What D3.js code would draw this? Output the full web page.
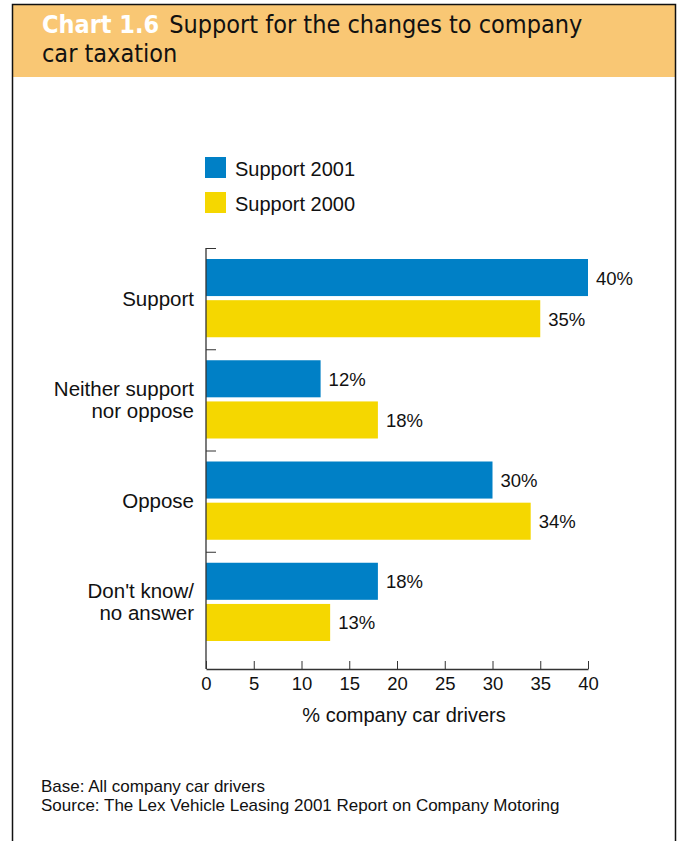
<!DOCTYPE html>
<html><head><meta charset="utf-8">
<script src="https://cdn.jsdelivr.net/npm/d3@7"></script>
<style>body{margin:0;background:#fff;} svg{display:block;}</style>
</head><body>
<svg id="c" width="679" height="841"></svg>
<script>
const categories = [["Support"], ["Neither support", "nor oppose"], ["Oppose"], ["Don't know/", "no answer"]];
const series = ["Support 2001", "Support 2000"];
const support2001 = [40, 12, 30, 18];
const support2000 = [35, 18, 34, 13];
const xTicks = [0, 5, 10, 15, 20, 25, 30, 35, 40];
const colors = ["#0080C6", "#F5D700"];

const svg = d3.select("#c");
const font = "'Liberation Sans', Arial, sans-serif";
const condensed = "'Liberation Sans Narrow', 'DejaVu Sans Condensed', 'Liberation Sans', Arial, sans-serif";

// frame
svg.append("rect").attr("x", 12).attr("y", 4).attr("width", 664).attr("height", 73).attr("fill", "#F9C774");
svg.append("path").attr("d", "M12.5,841 V4.5 H675.5 V841").attr("fill", "none").attr("stroke", "#111").attr("stroke-width", 1.5);

// title
const t1 = svg.append("text").attr("x", 42).attr("y", 33).attr("font-family", condensed).attr("font-size", 25).attr("fill", "#111");
t1.append("tspan").attr("font-weight", "bold").attr("fill", "#fff").text("Chart 1.6");
t1.append("tspan").attr("dx", 10).text("Support for the changes to company");
svg.append("text").attr("x", 42).attr("y", 62).attr("font-family", condensed).attr("font-size", 25).attr("fill", "#111").text("car taxation");

// scales
const x = d3.scaleLinear().domain([0, 40]).range([206, 588]);
const catIdx = categories.map((d, i) => i);
const y0 = d3.scaleBand().domain(catIdx).range([248, 653]);
const y1 = d3.scaleBand().domain(series).range([11, y0.bandwidth() - 12]).paddingInner(0.1);

// legend
series.forEach((s, i) => {
  const ly = 157 + i * 35;
  svg.append("rect").attr("x", 205).attr("y", ly).attr("width", 21).attr("height", 21).attr("fill", colors[i]);
  svg.append("text").attr("x", 235).attr("y", ly + 19).attr("font-family", font).attr("font-size", 20).attr("fill", "#111").text(s);
});

// bars
const data = [support2001, support2000];
const g = svg.append("g");
catIdx.forEach(ci => {
  series.forEach((s, si) => {
    const v = data[si][ci];
    const by = y0(ci) + y1(s);
    g.append("rect").attr("x", x(0)).attr("y", by).attr("width", x(v) - x(0)).attr("height", y1.bandwidth()).attr("fill", colors[si]);
    g.append("text").attr("x", x(v) + 8).attr("y", by + y1.bandwidth() / 2 + 7).attr("font-family", font).attr("font-size", 18.5).attr("fill", "#111").text(v + "%");
  });
  const lines = categories[ci];
  const cy = y0(ci) + y0.bandwidth() / 2;
  lines.forEach((l, li) => {
    svg.append("text").attr("x", 194).attr("y", cy + 7 + (li - (lines.length - 1) / 2) * 22).attr("text-anchor", "end")
      .attr("font-family", font).attr("font-size", 20.5).attr("fill", "#111").text(l);
  });
});

// y axis
const yAxisG = svg.append("g");
yAxisG.append("line").attr("x1", 206).attr("x2", 206).attr("y1", 248).attr("y2", 669).attr("stroke", "#333").attr("stroke-width", 1.3);
catIdx.forEach(ci => {
  yAxisG.append("line").attr("x1", 206).attr("x2", 216).attr("y1", y0(ci) + 0.5).attr("y2", y0(ci) + 0.5).attr("stroke", "#333").attr("stroke-width", 1);
});

// x axis
const xAxis = d3.axisBottom(x).tickValues(xTicks).tickSize(-8).tickSizeOuter(0).tickPadding(8);
const xg = svg.append("g").attr("transform", "translate(0,669)").call(xAxis);
xg.select(".domain").attr("stroke", "#333").attr("stroke-width", 1.3);
xg.selectAll(".tick line").attr("stroke", "#333");
xg.selectAll(".tick text").attr("font-family", font).attr("font-size", 18.5).attr("fill", "#111");

svg.append("text").attr("x", x(20) + 7).attr("y", 722).attr("text-anchor", "middle").attr("font-family", font).attr("font-size", 20).attr("fill", "#111").text("% company car drivers");

// footer
svg.append("text").attr("x", 41).attr("y", 792).attr("font-family", font).attr("font-size", 17).attr("fill", "#111").text("Base: All company car drivers");
svg.append("text").attr("x", 41).attr("y", 811).attr("font-family", font).attr("font-size", 17).attr("fill", "#111").text("Source: The Lex Vehicle Leasing 2001 Report on Company Motoring");
</script>
</body></html>
